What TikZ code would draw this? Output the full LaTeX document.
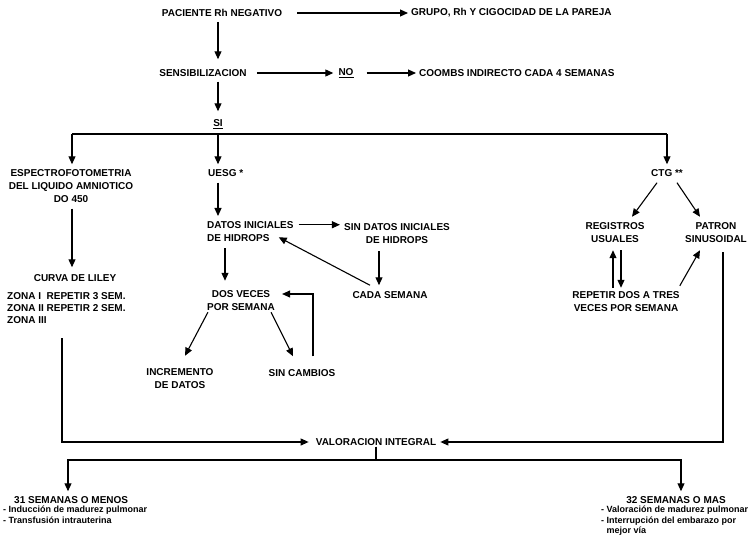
\documentclass[tikz,border=0pt]{standalone}
\usepackage{fontspec}
\setmainfont{Liberation Sans}
\usetikzlibrary{arrows.meta,calc}

\begin{document}
\begin{tikzpicture}[x=1pt, y=-1pt,
  lbl/.style={font=\fontsize{10}{13}\selectfont\bfseries, inner sep=1pt, align=center},
  note/.style={font=\fontsize{9}{10.5}\selectfont\bfseries, inner sep=0pt, align=left, anchor=north west},
  arr/.style={line width=1.1pt, -{Triangle[length=8pt,width=7pt]}},
  ln/.style={line width=1.1pt}]
\useasboundingbox (0,0) rectangle (752,548);
% main trunk
\coordinate (spine) at (218,0);
\node[lbl] (pac) at (222,13) {PACIENTE Rh NEGATIVO};
\node[lbl,anchor=west] (grupo) at (410,13) {GRUPO, Rh Y CIGOCIDAD DE LA PAREJA};
\node[lbl] (sens) at (203,73) {SENSIBILIZACION};
\node[lbl] (no) at (346,73) {\underline{NO}};
\node[lbl,anchor=west] (coombs) at (418,73) {COOMBS INDIRECTO CADA 4 SEMANAS};
\node[lbl] (si) at (218,124) {\underline{SI}};
\draw[arr,shorten <=14pt] (pac.east) -- ([xshift=-2pt]grupo.west);
\draw[arr,shorten <=4pt,shorten >=9pt] (pac.south -| spine) -- (sens.north -| spine);
\draw[arr,shorten <=9pt,shorten >=4pt] (sens.east) -- (no.west);
\draw[arr,shorten <=12pt,shorten >=2pt] (no.east) -- (coombs.west);
\draw[arr,shorten <=4pt,shorten >=7pt] (sens.south -| spine) -- (si.north -| spine);
% branches
\coordinate (busL) at (72,134);
\coordinate (busR) at (667,134);
\draw[ln] (busL) -- (busR);
\node[lbl] (esp) at (71,186) {ESPECTROFOTOMETRIA\\DEL LIQUIDO AMNIOTICO\\DO 450};
\node[lbl] (curva) at (75,278) {CURVA DE LILEY};
\node[lbl,font=\fontsize{10}{12}\selectfont\bfseries,align=left,anchor=north west] (zonas) at (6,291) {ZONA I\ \ REPETIR 3 SEM.\\ZONA II REPETIR 2 SEM.\\ZONA III};
\node[lbl,anchor=west] (uesg) at (207,173) {UESG *};
\node[lbl] (ctg) at (667,173) {CTG **};
\draw[arr,shorten >=4pt] (busL) -- (esp.north -| busL);
\draw[arr,shorten >=4pt] (busL -| spine) -- (uesg.north -| spine);
\draw[arr,shorten >=4pt] (busR) -- (ctg.north);
\draw[arr,shorten <=5pt,shorten >=6pt] (esp.south -| busL) -- (curva.north -| busL);
% ecografia
\coordinate (midx) at (379,0);
\coordinate (dosx) at (225,0);
\node[lbl,align=left,anchor=north west] (datos) at (206,220) {DATOS INICIALES\\DE HIDROPS};
\node[lbl] (sindatos) at (397,234) {SIN DATOS INICIALES\\DE HIDROPS};
\node[lbl] (cada) at (390,295) {CADA SEMANA};
\node[lbl] (dos) at (241,301) {DOS VECES\\POR SEMANA};
\node[lbl] (incr) at (180,379) {INCREMENTO\\DE DATOS};
\node[lbl] (sincamb) at (302,373) {SIN CAMBIOS};
\draw[arr,shorten <=5pt,shorten >=4pt] (uesg.south -| spine) -- (datos.north -| spine);
\draw[arr,shorten <=4pt,shorten >=3pt] ([yshift=6.5pt]datos.east) -- ([yshift=6.5pt]datos.east -| sindatos.west);
\draw[arr,shorten <=6pt,shorten >=5pt] (sindatos.south -| midx) -- (cada.north -| midx);
\draw[arr] ([xshift=-20pt,yshift=5pt]cada.north) -- ([xshift=-16pt,yshift=-6pt]datos.east);
\draw[arr,shorten <=6pt,shorten >=9pt] (datos.south -| dosx) -- (dos.north -| dosx);
\draw[arr] ([xshift=2pt]dos.south west) -- ([xshift=5pt,yshift=12pt]incr.north);
\draw[arr] ([xshift=-5pt]dos.south east) -- ([xshift=-9pt,yshift=12pt]sincamb.north);
\draw[arr] ([xshift=11pt,yshift=12pt]sincamb.north) |- ([xshift=6pt,yshift=7pt]dos.east);
% cardiotocografia
\node[lbl] (reg) at (615,233) {REGISTROS\\USUALES};
\node[lbl] (pat) at (716,233) {PATRON\\SINUSOIDAL};
\node[lbl] (rep) at (626,302) {REPETIR DOS A TRES\\VECES POR SEMANA};
\draw[arr] ([xshift=-10pt,yshift=-5pt]ctg.south) -- ([xshift=17pt,yshift=5pt]reg.north);
\draw[arr] ([xshift=10pt,yshift=-5pt]ctg.south) -- ([xshift=-16pt,yshift=5pt]pat.north);
\draw[arr] ([xshift=-13pt,yshift=3pt]rep.north) -- ([xshift=-2pt,yshift=-6pt]reg.south);
\draw[arr] ([xshift=6pt,yshift=-6pt]reg.south) -- ([xshift=-5pt,yshift=3pt]rep.north);
\draw[arr] ([xshift=-1pt,yshift=5pt]rep.north east) -- ([xshift=-16pt,yshift=-6pt]pat.south);
% valoracion
\node[lbl] (valor) at (376,442) {VALORACION INTEGRAL};
\coordinate (zl) at (62,338);
\draw[arr,shorten >=6pt] (zl) |- (valor.west);
\draw[arr,shorten >=3pt] ([xshift=7pt,yshift=-8pt]pat.south) |- (valor.east);
\coordinate (lowL) at (68,460);
\coordinate (lowR) at (681,460);
\node[lbl,anchor=west] (s31) at (13,500) {31 SEMANAS O MENOS};
\node[note] (b31) at (3,506) {- Inducción de madurez pulmonar\\- Transfusión intrauterina};
\node[lbl] (s32) at (676,500) {32 SEMANAS O MAS};
\node[note] (b32) at (601,506) {- Valoración de madurez pulmonar\\- Interrupción del embarazo por\\\phantom{- }mejor vía};
\draw[arr,shorten >=4pt] (valor.south) |- (lowL) -- (s31.north -| lowL);
\draw[arr,shorten >=4pt] (valor.south) |- (lowR) -- (s32.north -| lowR);
\end{tikzpicture}
\end{document}
